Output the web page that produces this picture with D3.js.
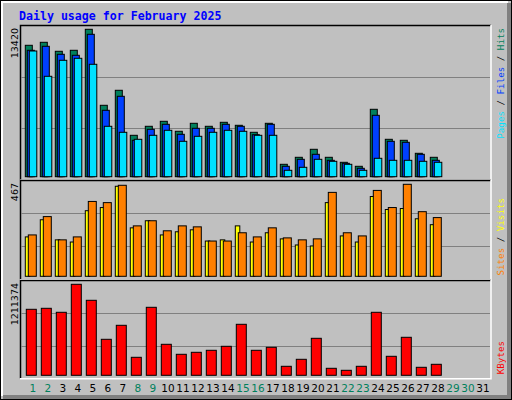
<!DOCTYPE html>
<html><head><meta charset="utf-8">
<script src="https://cdn.jsdelivr.net/npm/d3@7"></script>
<style>body{margin:0;background:#fff}</style>
</head><body>
<script>
const days = d3.range(1, 32)
const weekend = [1, 2, 8, 9, 15, 16, 22, 23, 29, 30]
const hits = [11964,12237,11418,11509,13420,6501,7867,3769,4589,5044,4134,4862,4589,4953,4680,4043,4862,1129,1766,2495,1766,1311,947,6137,3405,3314,2131,1766]
const files = [11509,11873,11145,11054,12965,6046,7320,3314,4316,4771,3860,4407,4407,4771,4589,3824,4771,947,1584,2040,1493,1220,765,5590,3223,3132,2040,1493]
const pages = [11445,9141,10598,10780,10234,4589,4043,3405,3769,4225,3223,3678,4043,4225,4134,3769,3769,583,856,1584,1402,1129,583,1675,1493,1493,1402,1311]
const visits = [200,287,185,174,333,349,457,246,282,210,226,236,179,185,256,174,221,190,159,154,374,205,174,405,339,344,292,262]
const sites = [210,303,185,200,380,374,462,256,282,231,256,251,179,179,221,200,246,195,185,190,426,221,205,436,349,467,328,298]
const kbytes = [878600,891900,838700,1211374,998400,479200,665600,239600,905200,412700,279600,306200,332800,386000,678900,332800,372700,119800,213000,492500,93200,66600,119800,838700,252900,505900,106500,146400]
const maxLabels = ['13420', '467', '1211374']

const W = 512, H = 400
const svg = d3.select('body').append('svg').attr('width', W).attr('height', H)
  .style('display', 'block')

// frame
svg.append('rect').attr('width', W).attr('height', H).attr('fill', '#c0c0c0')
svg.append('rect').attr('x', 0.5).attr('y', 0.5).attr('width', W - 1).attr('height', H - 1)
  .attr('fill', 'none').attr('stroke', '#000')
svg.append('path').attr('d', `M2,${H-4}V2H${W-4}`).attr('stroke', '#fff').attr('stroke-width', 2).attr('fill', 'none')
svg.append('path').attr('d', `M${W-3},3V${H-3}H3`).attr('stroke', '#808080').attr('stroke-width', 4).attr('fill', 'none')

svg.append('text').attr('x', 19).attr('y', 20)
  .attr('font-family', 'DejaVu Sans Mono').attr('font-weight', 'bold').attr('font-size', 11.6)
  .attr('fill', '#0000ff').text('Daily usage for February 2025')

const x = d3.scaleLinear().domain([1, 2]).range([25.3, 40.3])

const panels = [
  { top: 25, base: 176.7, maxY: 29.3, max: 13420 },
  { top: 180, base: 276.3, maxY: 184.3, max: 467 },
  { top: 280, base: 375.3, maxY: 284.3, max: 1211374 }
]
panels.forEach((p, i) => {
  p.y = d3.scaleLinear().domain([0, p.max]).range([p.base, p.maxY])
  const h = p.base + 3 - p.top
  svg.append('path').attr('d', `M20.5,${p.base + 3}V${p.top + 0.5}H491`).attr('stroke', '#000').attr('stroke-width', 1.5).attr('fill', 'none')
  svg.append('path').attr('d', `M491,${p.top}V${p.base + 3.5}H20`).attr('stroke', '#fff').attr('stroke-width', 1.5).attr('fill', 'none')
  ;[1, 2].forEach(k => {
    const gy = Math.round(p.top + h * k / 3) + 0.5
    svg.append('line').attr('x1', 21).attr('x2', 490).attr('y1', gy).attr('y2', gy)
      .attr('stroke', '#808080').attr('stroke-width', 1.2)
  })
  svg.append('text').attr('transform', `translate(18,${p.top + 3}) rotate(-90)`)
    .attr('text-anchor', 'end').attr('font-family', 'DejaVu Sans').attr('font-size', 9.5)
    .attr('fill', '#000').text(maxLabels[i])
})

const bars = (g, data, p, dx, w, color) => g.selectAll(null).data(data).join('rect')
  .attr('x', (d, i) => x(i + 1) + dx).attr('width', w)
  .attr('y', d => p.y(d)).attr('height', d => p.base - p.y(d))
  .attr('fill', color).attr('stroke', '#000').attr('stroke-width', 1)

const g = svg.append('g')
bars(g.append('g'), hits, panels[0], 0, 7, '#00805c')
bars(g.append('g'), files, panels[0], 2, 7, '#0040ff')
bars(g.append('g'), pages, panels[0], 4, 7.5, '#00e0ff')
bars(g.append('g'), visits, panels[1], 0, 4.5, '#ffff00')
bars(g.append('g'), sites, panels[1], 3, 8, '#ff8000')
bars(g.append('g'), kbytes, panels[2], 1, 10, '#ff0000')

svg.append('g').selectAll('text').data(days).join('text')
  .attr('x', d => x(d) + 7.6).attr('y', 392).attr('text-anchor', 'middle')
  .attr('font-family', 'DejaVu Sans').attr('font-size', 10.5)
  .attr('fill', d => weekend.includes(d) ? '#00805c' : '#000').text(d => d)

const side = (yEnd, parts) => {
  const t = svg.append('text').attr('transform', `translate(504,${yEnd}) rotate(-90)`)
    .attr('text-anchor', 'end').attr('font-family', 'DejaVu Sans Mono').attr('font-size', 9.2)
  parts.forEach(([s, c]) => t.append('tspan').attr('fill', c).text(s))
}
side(28, [['Pages', '#00e0ff'], [' / ', '#000'], ['Files', '#0040ff'], [' / ', '#000'], ['Hits', '#00805c']])
side(198, [['Sites', '#ff8000'], [' / ', '#000'], ['Visits', '#ffff00']])
side(341, [['KBytes', '#ff0000']])
</script>
</body></html>
